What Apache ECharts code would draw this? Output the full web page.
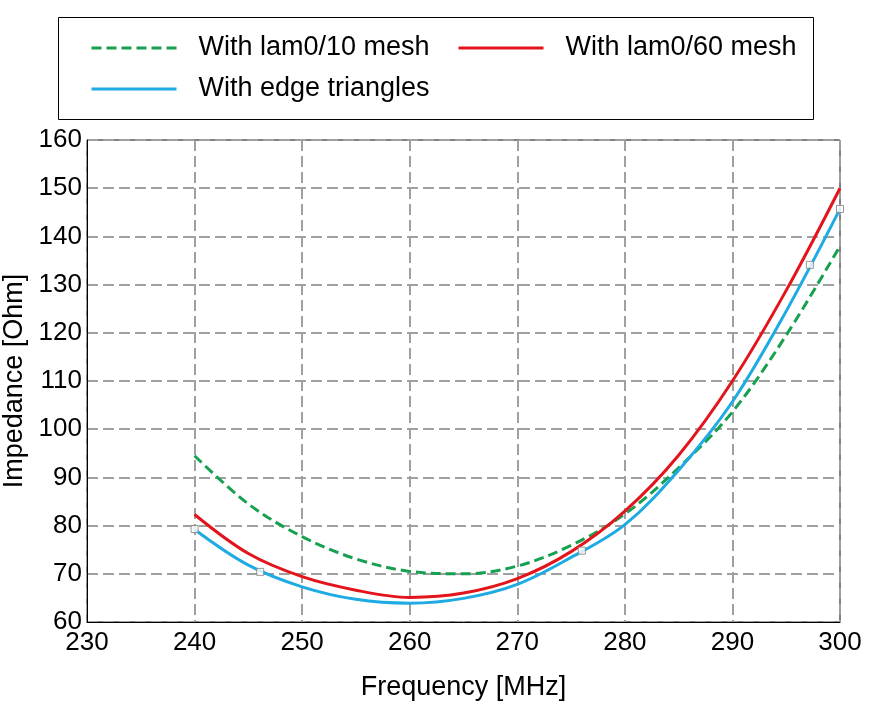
<!DOCTYPE html>
<html>
<head>
<meta charset="utf-8">
<script src="https://cdn.jsdelivr.net/npm/echarts@6/dist/echarts.min.js"></script>
<style>html,body{margin:0;padding:0;background:#fff}#c{width:885px;height:709px}</style>
</head>
<body>
<div id="c"></div>
<script>
const freq = [240, 245, 250, 255, 260, 265, 270, 275, 280, 285, 290, 295, 300];
const mesh10 = [94.5, 84.5, 77.7, 73.1, 70.5, 70.0, 71.6, 75.9, 82.4, 92.0, 103.6, 119.5, 138.0];
const mesh60 = [82.3, 74.2, 69.4, 66.6, 65.1, 66.0, 69.0, 74.6, 83.0, 94.6, 110.0, 128.8, 150.0];
const edgeTri = [79.2, 71.8, 67.3, 64.7, 63.9, 64.9, 67.8, 73.4, 80.2, 91.5, 105.7, 124.5, 145.7];
const markerFreq = [240, 246.1, 276, 297.2, 300];
const markerVal = [79.3, 70.4, 74.8, 134.1, 145.7];
const xTicks = {min: 230, max: 300, step: 10};
const yTicks = {min: 60, max: 160, step: 10};
const names = ['With lam0/10 mesh', 'With lam0/60 mesh', 'With edge triangles'];

const FONT = 'Liberation Sans, Arial, sans-serif';
const pair = (xs, ys) => xs.map((x, i) => [x, ys[i]]);
const legendBase = {
  orient: 'horizontal', padding: 0, itemWidth: 85, itemHeight: 14,
  itemStyle: {opacity: 0, borderWidth: 0},
  lineStyle: {width: 3},
  textStyle: {fontFamily: FONT, fontSize: 27, color: '#000', lineHeight: 30, padding: [0, 0, 0, 17]},
  selectedMode: false
};
const chart = echarts.init(document.getElementById('c'), null, {renderer: 'canvas'});
chart.setOption({
  animation: false,
  backgroundColor: '#fff',
  graphic: [{type: 'rect', shape: {x: 58.5, y: 17.5, width: 755, height: 102}, style: {fill: 'none', stroke: '#000', lineWidth: 1}, z: 0}],
  legend: [
    Object.assign({}, legendBase, {left: 90, top: 33, data: [names[0]]}),
    Object.assign({}, legendBase, {left: 457, top: 33, data: [names[1]]}),
    Object.assign({}, legendBase, {left: 90, top: 74, data: [names[2]]})
  ],
  grid: {left: 87, top: 140, right: 45, bottom: 87, outerBoundsMode: 'none', containLabel: false,
         show: true, borderColor: '#000', borderWidth: 1, backgroundColor: 'transparent'},
  xAxis: {
    type: 'value', min: xTicks.min, max: xTicks.max, interval: xTicks.step,
    name: 'Frequency [MHz]', nameLocation: 'middle', nameGap: 52,
    nameTextStyle: {fontFamily: FONT, fontSize: 27, color: '#000'},
    axisLine: {show: true, lineStyle: {color: '#000', width: 1}},
    axisTick: {show: false},
    axisLabel: {fontFamily: FONT, fontSize: 26, color: '#000', margin: 8},
    splitLine: {show: true, lineStyle: {color: '#a0a0a0', width: 2, type: [11, 5]}}
  },
  yAxis: {
    type: 'value', min: yTicks.min, max: yTicks.max, interval: yTicks.step,
    name: 'Impedance [Ohm]', nameLocation: 'middle', nameGap: 47,
    nameTextStyle: {fontFamily: FONT, fontSize: 27, color: '#000'},
    axisLine: {show: true, lineStyle: {color: '#000', width: 1}},
    axisTick: {show: false},
    axisLabel: {fontFamily: FONT, fontSize: 26, color: '#000', margin: 5},
    splitLine: {show: true, lineStyle: {color: '#a0a0a0', width: 2, type: [11, 5]}}
  },
  series: [
    {name: names[0], type: 'line', smooth: 0.35, symbol: 'none', data: pair(freq, mesh10),
     lineStyle: {color: '#17a050', width: 3, type: [10, 5]}, itemStyle: {color: '#17a050'}, z: 3},
    {name: names[1], type: 'line', smooth: 0.35, symbol: 'none', data: pair(freq, mesh60),
     lineStyle: {color: '#e3141c', width: 3}, itemStyle: {color: '#e3141c'}, z: 4},
    {name: names[2], type: 'line', smooth: 0.35, symbol: 'none', data: pair(freq, edgeTri),
     lineStyle: {color: '#1eaae2', width: 3}, itemStyle: {color: '#1eaae2'}, z: 5},
    {name: 'points', type: 'scatter', symbol: 'rect', symbolSize: 7, data: pair(markerFreq, markerVal),
     itemStyle: {color: '#fff', borderColor: '#7f7f7f', borderWidth: 1}, z: 6, clip: false}
  ]
});
</script>
</body>
</html>
